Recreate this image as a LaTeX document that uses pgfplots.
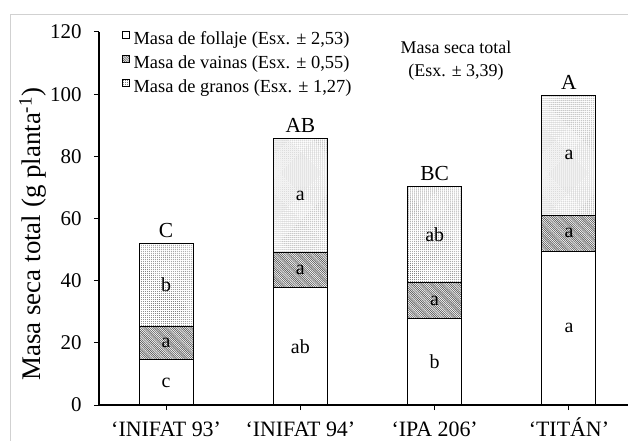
\documentclass[border=0pt]{standalone}
\usepackage{fontspec}
\setmainfont{Liberation Serif}
\usepackage{pgfplots}
\usepackage{pgfplotstable}
\pgfplotsset{compat=1.18}
\usetikzlibrary{patterns}

\pgfdeclarepatternformonly{hatchdense}{\pgfqpoint{-1pt}{-1pt}}{\pgfqpoint{3.2pt}{3.2pt}}{\pgfqpoint{2.2pt}{2.2pt}}{%
  \pgfsetlinewidth{0.6pt}\pgfpathmoveto{\pgfqpoint{-0.1pt}{2.3pt}}\pgfpathlineto{\pgfqpoint{2.3pt}{-0.1pt}}\pgfusepath{stroke}}
\pgfdeclarepatternformonly{finedots}{\pgfqpoint{-0.6pt}{-0.6pt}}{\pgfqpoint{0.6pt}{0.6pt}}{\pgfqpoint{2pt}{2pt}}{%
  \pgfpathcircle{\pgfqpoint{0pt}{0pt}}{0.45pt}\pgfusepath{fill}}

\pgfplotstableread{
x fol vai gra
0 14.5 10.7 26.8
1 37.7 11.3 36.6
2 27.7 11.8 30.7
3 49.3 11.8 38.6
}\datatable

\pgfplotsset{sqlegend/.style={legend image code/.code={\draw[##1, line width=0.6bp] (0bp,2bp) rectangle (7.5bp,9bp);}}}
\tikzset{lbl/.style={font=\fontsize{20}{20}\selectfont},
         top/.style={font=\fontsize{21.5}{21.5}\selectfont, anchor=base, yshift=6bp}}

\begin{document}
\begin{tikzpicture}
\path[use as bounding box] (0,0) rectangle (628bp,441bp);
\draw[black!18, line width=0.8bp] (10bp,0) -- (10bp,427bp) -- (628bp,427bp);
\begin{axis}[
  at={(99bp,36bp)}, anchor=south west,
  scale only axis, width=529bp, height=373bp,
  ybar stacked, bar width=54bp,
  xmin=-0.5, xmax=3.44, ymin=0, ymax=120,
  axis x line=bottom, axis y line=left,
  axis line style={-, line width=1.1bp},
  xtick={0,1,2,3},
  xticklabels={‘INIFAT 93’,‘INIFAT 94’,‘IPA 206’,‘TITÁN’},
  ytick={0,20,...,120},
  tick align=outside, major tick length=5bp,
  tick style={black, line width=1bp},
  /pgf/number format/assume math mode=true,
  yticklabel style={font=\fontsize{21}{21}\selectfont, xshift=-9bp},
  xticklabel style={font=\fontsize{22}{22}\selectfont, inner sep=0pt, text height=15bp, text depth=0bp, yshift=-11bp},
  ylabel={Masa seca total (g planta\textsuperscript{-1})},
  ylabel style={font=\fontsize{27}{27}\selectfont, at={(axis description cs:-0.125,0.458)}, anchor=center},
  legend style={at={(axis description cs:0.043,1.004)}, anchor=north west, draw=none, fill=none, inner sep=0pt,
    font=\fontsize{18.5}{18.5}\selectfont, row sep=6.8bp, column sep=3.5bp,
    nodes={inner sep=0pt, text height=12bp, text depth=4bp}},
  legend cell align=left,
]
\addplot[sqlegend, fill=white, draw=black, line width=1.1bp] table[x=x,y=fol]{\datatable};
\addplot[sqlegend, pattern=hatchdense, pattern color=black!65, draw=black, line width=1.1bp] table[x=x,y=vai]{\datatable};
\addplot[sqlegend, pattern=finedots, pattern color=black!60, draw=black, line width=1.1bp] table[x=x,y=gra]{\datatable};
\legend{{Masa de follaje (Esx. ± 2,53)}, {Masa de vainas (Esx. ± 0,55)}, {Masa de granos (Esx. ± 1,27)}}

\coordinate (f0) at (axis cs:0,7.25);
\coordinate (v0) at (axis cs:0,19.85);
\coordinate (g0) at (axis cs:0,38.6);
\coordinate (t0) at (axis cs:0,52.0);
\coordinate (f1) at (axis cs:1,18.85);
\coordinate (v1) at (axis cs:1,43.35);
\coordinate (g1) at (axis cs:1,67.3);
\coordinate (t1) at (axis cs:1,85.6);
\coordinate (f2) at (axis cs:2,13.85);
\coordinate (v2) at (axis cs:2,33.6);
\coordinate (g2) at (axis cs:2,54.85);
\coordinate (t2) at (axis cs:2,70.2);
\coordinate (f3) at (axis cs:3,24.65);
\coordinate (v3) at (axis cs:3,55.2);
\coordinate (g3) at (axis cs:3,80.4);
\coordinate (t3) at (axis cs:3,99.7);
\end{axis}
\node[lbl] at (f0) {c};
\node[lbl] at (v0) {a};
\node[lbl] at (g0) {b};
\node[top] at (t0) {C};
\node[lbl] at (f1) {ab};
\node[lbl] at (v1) {a};
\node[lbl] at (g1) {a};
\node[top] at (t1) {AB};
\node[lbl] at (f2) {b};
\node[lbl] at (v2) {a};
\node[lbl] at (g2) {ab};
\node[top] at (t2) {BC};
\node[lbl] at (f3) {a};
\node[lbl] at (v3) {a};
\node[lbl] at (g3) {a};
\node[top] at (t3) {A};
\node[align=center, font=\fontsize{18}{23}\selectfont] at (456bp,380.5bp) {Masa seca total\\(Esx. ± 3,39)};
\end{tikzpicture}
\end{document}
